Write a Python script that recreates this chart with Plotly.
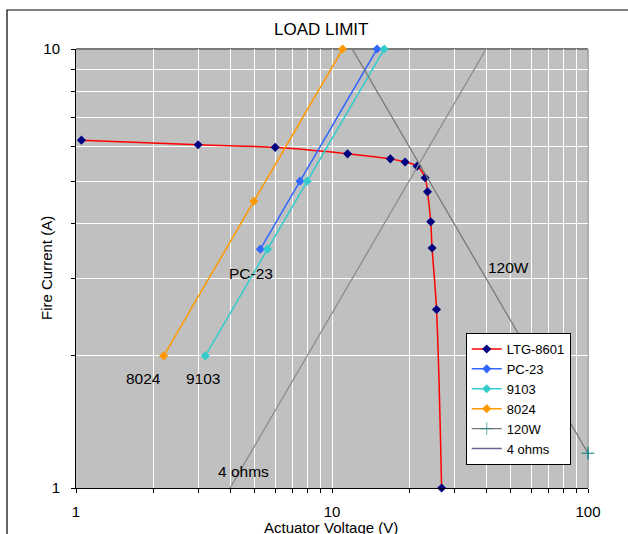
import plotly.graph_objects as go

# ---- data ----
ltg_v = [1.05, 3.0, 6.0, 11.5, 16.9, 19.3, 21.5, 23.1, 23.6, 24.3, 24.6, 25.6, 26.8]
ltg_i = [6.2, 6.05, 5.97, 5.77, 5.62, 5.53, 5.41, 5.09, 4.73, 4.04, 3.52, 2.55, 1.0]
pc23_v = [5.25, 7.5, 15.0]
pc23_i = [3.5, 5.0, 10.0]
s9103_v = [3.2, 5.6, 8.0, 16.0]
s9103_i = [2.0, 3.5, 5.0, 10.0]
s8024_v = [2.2, 4.95, 11.0]
s8024_i = [2.0, 4.5, 10.0]
w120_v = [12.0, 100.0]
w120_i = [10.0, 1.2]
ohm4_v = [4.0, 40.0]
ohm4_i = [1.0, 10.0]

x_ticks = [1, 2, 3, 4, 5, 6, 7, 8, 9, 10, 20, 30, 40, 50, 60, 70, 80, 90, 100]
x_labels = ["1", "", "", "", "", "", "", "", "", "10", "", "", "", "", "", "", "", "", "100"]
y_ticks = [1, 2, 3, 4, 5, 6, 7, 8, 9, 10]
y_labels = ["1", "", "", "", "", "", "", "", "", "10"]

FONT = "Arial, Liberation Sans, sans-serif"

# plot area geometry (pixels)
W, H = 628, 534
L, R, T, B = 76, 588, 49, 488
PW, PH = R - L, B - T


def px(x):
    return (x - L) / PW


def py(y):
    return (B - y) / PH


fig = go.Figure()

fig.add_trace(go.Scatter(
    x=ltg_v, y=ltg_i, name="LTG-8601", mode="lines+markers",
    line=dict(color="#FF0000", width=1.5, shape="spline", smoothing=1.0),
    marker=dict(symbol="diamond", size=7, color="#000080"),
    cliponaxis=False))
fig.add_trace(go.Scatter(
    x=pc23_v, y=pc23_i, name="PC-23", mode="lines+markers",
    line=dict(color="#3366FF", width=1.5),
    marker=dict(symbol="diamond", size=7, color="#3366FF"),
    cliponaxis=False))
fig.add_trace(go.Scatter(
    x=s9103_v, y=s9103_i, name="9103", mode="lines+markers",
    line=dict(color="#33CCCC", width=1.5),
    marker=dict(symbol="diamond", size=7, color="#33CCCC"),
    cliponaxis=False))
fig.add_trace(go.Scatter(
    x=s8024_v, y=s8024_i, name="8024", mode="lines+markers",
    line=dict(color="#FF9900", width=1.5),
    marker=dict(symbol="diamond", size=7, color="#FF9900"),
    cliponaxis=False))
fig.add_trace(go.Scatter(
    x=w120_v, y=w120_i, name="120W", mode="lines+markers",
    line=dict(color="#777777", width=1.3),
    marker=dict(symbol="cross-thin", size=9, opacity=[0, 1],
                line=dict(color="#008080", width=1.2)),
    cliponaxis=False))
fig.add_trace(go.Scatter(
    x=ohm4_v, y=ohm4_i, name="4 ohms", mode="lines",
    line=dict(color="#8C8C8C", width=1.3), showlegend=False))
fig.add_trace(go.Scatter(
    x=[None], y=[None], name="4 ohms", mode="lines",
    line=dict(color="#666699", width=1.5)))

axis_common = dict(
    type="log", showgrid=True, gridcolor="#FFFFFF", gridwidth=1,
    showline=True, linecolor="#000000", linewidth=1,
    ticks="outside", ticklen=4, tickcolor="#000000", tickwidth=1,
    tickfont=dict(family=FONT, size=15, color="#000000"),
    zeroline=False, fixedrange=True,
)
fig.update_xaxes(range=[0, 2], tickmode="array", tickvals=x_ticks, ticktext=x_labels,
                 ticklabelstandoff=6, **axis_common)
fig.update_yaxes(range=[0, 1], tickmode="array", tickvals=y_ticks, ticktext=y_labels,
                 ticklabelstandoff=8, **axis_common)

annotations = [
    dict(text="LOAD LIMIT", x=px(320.5), y=py(30), size=17),
    dict(text="Actuator Voltage (V)", x=px(331), y=py(527.5), size=15),
    dict(text="Fire Current (A)", x=px(46), y=py(268), size=15, angle=-90),
    dict(text="PC-23", x=px(250.7), y=py(273), size=15.5),
    dict(text="8024", x=px(143), y=py(378), size=15.5),
    dict(text="9103", x=px(203), y=py(378), size=15.5),
    dict(text="4 ohms", x=px(243), y=py(471), size=15.5),
    dict(text="120W", x=px(508.6), y=py(267), size=15.5),
]
for a in annotations:
    fig.add_annotation(
        text=a["text"], x=a["x"], y=a["y"], xref="paper", yref="paper",
        xanchor="center", yanchor="middle", showarrow=False,
        textangle=a.get("angle", 0),
        font=dict(family=FONT, size=a["size"], color="#000000"))

shapes = [
    # outer chart frame (cropped on right/bottom)
    dict(type="rect", xref="paper", yref="paper", x0=px(7), x1=px(660), y0=py(560), y1=py(10),
         line=dict(color="#000000", width=1.2), layer="above"),
    # plot area top & right border
    dict(type="line", xref="paper", yref="paper", x0=0, x1=1, y0=1, y1=1,
         line=dict(color="#7A7A7A", width=1.8), layer="between"),
    dict(type="line", xref="paper", yref="paper", x0=1, x1=1, y0=0, y1=1,
         line=dict(color="#A8A8A8", width=1.8), layer="between"),
]
for s in shapes:
    fig.add_shape(**s)

fig.update_layout(
    width=W, height=H,
    margin=dict(l=L, r=W - R, t=T, b=H - B, pad=0),
    paper_bgcolor="#FFFFFF", plot_bgcolor="#C0C0C0",
    font=dict(family=FONT, size=15, color="#000000"),
    showlegend=True,
    legend=dict(
        x=px(465.7), y=py(333), xanchor="left", yanchor="top",
        bgcolor="#FFFFFF", bordercolor="#000000", borderwidth=1,
        font=dict(family=FONT, size=13, color="#000000"),
        itemwidth=30, tracegroupgap=0,
        entrywidth=80, entrywidthmode="pixels",
    ),
)

fig.write_html("out.html", config={"displayModeBar": False},
               post_script="document.body.style.margin='0';")
